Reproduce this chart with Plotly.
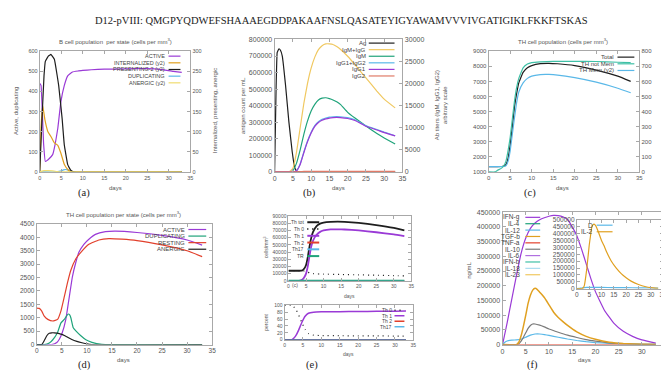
import plotly.graph_objects as go

W, H = 669, 370
SANS = "Liberation Sans"
SERIF = "Liberation Serif"

def X(p):
    return p / W

def Y(p):
    return 1 - p / H

# ---------------- colours ----------------
PURPLE = "#9a3ad6"
ORANGE = "#e0a020"
BLACK = "#1e1e1e"
LBLUE = "#5ab8e8"
PYELLOW = "#f0dc70"
GREEN = "#1fa37a"
SALMON = "#e07a68"
RED = "#e2402c"
TEAL = "#3fc0a6"
GRAY = "#7a7a7a"

TITLE = "D12-pVIII: QMGPYQDWEFSHAAAEGDDPAKAAFNSLQASATEYIGYAWAMVVVIVGATIGIKLFKKFTSKAS"

# ---------------- (a) B cell population per state ----------------
a_active_days = [0, 0.3, 0.6, 0.9, 1.3, 2, 3, 3.6, 4.2, 4.9, 5.7, 6.5, 7.6, 9, 10, 12, 15, 20, 25, 28, 31, 33]
a_active = [440, 430, 300, 140, 52, 62, 86, 140, 217, 347, 429, 478, 497, 502, 505, 508, 511, 512, 514, 510, 500, 495]
a_int_days = [0, 0.3, 0.7, 1.2, 1.9, 2.6, 3.4, 4.2, 4.9, 5.7, 6.5, 7.3, 8, 33]
a_internalized = [0, 110, 165, 130, 100, 88, 72, 66, 47, 19, 6, 0, 0, 0]
a_pres_days = [0, 0.5, 1, 1.3, 2, 2.6, 3.4, 4.4, 5.2, 5.7, 6.5, 7.2, 8, 33]
a_presenting = [0, 125, 240, 275, 288, 292, 280, 215, 133, 68, 18, 4, 0, 0]
a_dup_days = [0, 4, 5, 5.5, 6, 6.5, 7, 7.5, 33]
a_duplicating = [0, 0, 5, 10, 12, 10, 4, 0, 0]
a_anerg_days = [0, 0.5, 1, 2, 3, 4, 5, 33]
a_anergic = [0, 2, 3, 3, 2.5, 1, 0, 0]

# ---------------- (b) antigen and antibodies ----------------
b_ag_days = [0, 0.4, 0.7, 1.2, 1.6, 2.1, 3.0, 3.9, 4.8, 5.5, 6.1, 7, 33]
b_ag = [0, 500000, 720000, 744000, 735000, 700000, 522000, 304000, 125000, 26000, 0, 0, 0]
b_ab_days = [0, 4, 5, 6, 7, 8, 9, 10, 11, 12, 13, 14, 15, 16, 17, 18, 20, 22, 25, 28, 30, 33]
b_igm_igg = [0, 0, 800, 4500, 10000, 15500, 20000, 23500, 26000, 27700, 28600, 29000, 29000, 28850, 28400, 27800, 26200, 24300, 21300, 18300, 16500, 14500]
b_igm = [0, 0, 300, 2000, 5000, 8500, 11500, 13800, 15300, 16300, 16700, 16800, 16600, 16300, 15900, 15300, 13500, 12200, 10400, 8700, 7700, 6300]
b_igg1_igg2 = [0, 0, 0, 300, 1800, 4500, 7000, 9000, 10500, 11400, 11900, 12200, 12400, 12500, 12550, 12500, 12300, 11800, 10450, 9600, 9000, 8200]
b_igg1 = [0, 0, 0, 280, 1700, 4350, 6800, 8800, 10300, 11200, 11700, 12000, 12200, 12300, 12350, 12300, 12100, 11650, 10350, 9500, 8900, 8150]
b_igg2 = [0, 0, 0, 20, 60, 100, 120, 130, 140, 140, 140, 140, 140, 140, 140, 140, 135, 130, 120, 110, 105, 100]

# ---------------- (c) TH cell population ----------------
c_days = [0, 1, 2, 3, 3.5, 4, 4.5, 5, 5.5, 6, 6.5, 7, 8, 9, 10, 12, 14, 16, 20, 25, 30, 33]
c_total = [1350, 1350, 1350, 1360, 1380, 1480, 1900, 2800, 4000, 5300, 6200, 6900, 7600, 7900, 8050, 8180, 8200, 8170, 8050, 7750, 7350, 7000]
c_not_mem = [1350, 1350, 1350, 1350, 1360, 1400, 1700, 2400, 3500, 4600, 5600, 6300, 6900, 7200, 7350, 7450, 7460, 7420, 7250, 6950, 6550, 6250]
c_mem_days = [0, 1.5, 2, 3, 3.5, 4, 4.5, 5, 5.5, 6, 6.5, 7, 8, 9, 10, 12, 15, 20, 25, 30, 33]
c_mem = [0, 0, 10, 25, 40, 70, 140, 230, 350, 470, 560, 620, 690, 715, 725, 730, 733, 733, 732, 727, 725]

# ---------------- (d) TH cell population per state ----------------
d_act_days = [0, 3, 4, 4.5, 5.1, 5.8, 6.5, 7.1, 7.8, 8.4, 9.4, 10.4, 11.7, 13.7, 15.7, 20, 25, 30, 33]
d_active = [0, 0, 80, 200, 450, 940, 1790, 2520, 3070, 3440, 3740, 3930, 4110, 4210, 4230, 4180, 4070, 3900, 3710]
d_dup_days = [0, 1.5, 2.5, 3.2, 4.15, 4.8, 5.5, 6.0, 6.3, 6.6, 6.8, 7.25, 7.8, 8.8, 9.8, 11, 13, 15, 33]
d_duplicating = [0, 0, 60, 180, 450, 800, 940, 1080, 1140, 1100, 1000, 640, 510, 330, 180, 85, 12, 0, 0]
d_rest_days = [0, 0.5, 1, 1.5, 2.2, 3.2, 4.15, 4.8, 5.5, 6.1, 6.8, 7.8, 8.8, 10.4, 12.4, 14.4, 17, 20, 25, 30, 33]
d_resting = [1360, 1350, 1250, 1060, 940, 880, 940, 1240, 1790, 2280, 2770, 3200, 3440, 3740, 3900, 3950, 3930, 3880, 3720, 3500, 3280]
d_anerg_days = [0, 1, 1.5, 2, 2.5, 3, 3.5, 4, 4.5, 5, 5.5, 6, 7, 8, 9, 10, 11, 33]
d_anergic = [0, 0, 150, 330, 420, 440, 440, 430, 410, 380, 340, 290, 190, 120, 70, 25, 0, 0]

# ---------------- (e) Th subsets ----------------
e_days = [0, 1, 2, 3, 4, 4.5, 5, 5.5, 6, 6.5, 7, 8, 9, 10, 12, 14, 16, 20, 25, 30, 33]
e_th_tot = [14000, 14000, 14000, 14000, 14500, 17000, 22000, 33000, 48000, 60000, 68000, 76000, 79500, 81000, 82000, 82300, 82000, 80500, 77500, 73500, 70000]
e_th1 = [0, 0, 0, 0, 2000, 5000, 10000, 20000, 35000, 48000, 56000, 64000, 68000, 70000, 71500, 71500, 71300, 70000, 67500, 64500, 62000]
e_th2 = [0] * 21
e_th17 = [0] * 21
e_tr = [300] * 21
e_th0_days = [0, 4, 4.5, 5, 5.5, 6, 6.5, 7, 8, 9, 10, 15, 20, 25, 30, 33]
e_th0 = [14000, 14000, 13500, 13000, 12000, 11000, 10500, 10000, 9600, 9400, 9300, 8800, 8300, 7800, 7200, 6800]
e_pct_days = [0, 2, 2.5, 3.2, 3.8, 4.7, 5.6, 6.5, 7.9, 10, 15, 20, 25, 30, 33]
e_th1_pct = [0, 0, 4, 14, 27, 50, 68, 77, 80, 81, 81.5, 82, 82.5, 83, 83.5]
e_th0_pct = [100, 100, 96, 86, 73, 50, 30, 18, 13, 12, 11.5, 11, 11, 10.5, 10.5]
e_th2_pct = [0] * 15
e_th17_pct = [0] * 15

# ---------------- (f) cytokines ----------------
f_ifng_days = [0, 1, 2, 3, 4, 5, 6, 7, 8, 9, 10, 11, 12, 13, 14, 15, 16, 17, 18, 19, 20, 22, 24, 26, 28, 30, 33]
f_ifng = [0, 75000, 155000, 235000, 310000, 362000, 395000, 413000, 424000, 431000, 436000, 439000, 438000, 434000, 425000, 400000, 370000, 325000, 275000, 225000, 180000, 115000, 72000, 45000, 28000, 16000, 5000]
f_tgfb_days = [0, 3, 3.5, 4, 4.5, 5, 5.5, 6, 6.5, 7, 7.5, 8, 9, 10, 11, 12, 13, 14, 16, 18, 20, 23, 26, 30, 33]
f_tgfb = [0, 0, 8000, 30000, 63000, 100000, 140000, 168000, 185000, 191000, 187000, 178000, 160000, 135000, 110000, 92000, 78000, 65000, 43000, 28000, 18000, 8000, 3500, 1200, 500]
f_il10_days = [0, 3, 3.5, 4, 4.5, 5, 5.5, 6, 6.5, 7, 8, 9, 10, 12, 14, 16, 18, 20, 23, 26, 30, 33]
f_il10 = [0, 0, 3000, 12000, 25000, 40000, 55000, 65000, 70000, 70000, 66000, 60000, 53000, 42000, 32000, 24000, 17000, 12000, 6000, 3000, 1000, 500]
f_il12_days = [0, 0.5, 1, 2, 3, 4, 5, 6, 7, 7.5, 8, 9, 10, 12, 14, 16, 18, 20, 23, 26, 30, 33]
f_il12 = [0, 8000, 12000, 15000, 16000, 18000, 25000, 32000, 36000, 36500, 36000, 34000, 31000, 25000, 19000, 14000, 10000, 7000, 4000, 2000, 1000, 500]
f_flat_days = [0, 33]
f_flat = [0, 0]
f_d_days = [0, 1, 2, 3, 4, 5, 6, 8, 10, 15, 20, 25, 30, 33]
f_d = [0, 2000, 5000, 7000, 9000, 10000, 10000, 9500, 9000, 8000, 7000, 6000, 5000, 4500]
f_il2_days = [0, 2, 2.5, 3, 4, 5, 5.5, 6, 6.5, 7, 7.5, 8, 9, 10, 11, 12, 14, 16, 18, 20, 22, 25, 28, 30, 33]
f_il2 = [0, 0, 5000, 20000, 140000, 314000, 380000, 443000, 465000, 470000, 462000, 445000, 400000, 350000, 314000, 270000, 200000, 150000, 110000, 80000, 55000, 30000, 14000, 8000, 3000]

# ---------------- legend labels ----------------
a_labels = ["ACTIVE", "INTERNALIZED (y2)", "PRESENTING-2 (y2)", "DUPLICATING", "ANERGIC (y2)"]
b_labels = ["Ag", "IgM+IgG", "IgM", "IgG1+IgG2", "IgG1", "IgG2"]
c_labels = ["Total", "TH not Mem", "TH Mem (y2)"]
d_labels = ["ACTIVE", "DUPLICATING", "RESTING", "ANERGIC"]
e_labels = ["Th tot", "Th 0", "Th 1", "Th 2", "Th17", "TR"]
e2_labels = ["Th 0", "Th 1", "Th 2", "Th17"]
f_labels = ["IFN-g", "IL-4", "IL-12", "TGF-b", "TNF-a", "IL-10", "IL-6", "IFN-b", "IL-18", "IL-23"]
f2_labels = ["D", "IL-2"]

fig = go.Figure()

FRAME = "#a8a8a8"


def ax_style(fs, mirror):
    return dict(showline=True, linecolor=FRAME, linewidth=1, mirror=mirror,
                ticks="inside", ticklen=3, tickcolor=FRAME, showgrid=False,
                zeroline=False, tickformat="d",
                tickfont=dict(size=fs, color="#555", family=SANS))


def set_x(n, px0, px1, anchor, rng, dtick, fs):
    key = "xaxis" if n == 1 else f"xaxis{n}"
    fig.update_layout({key: dict(domain=[X(px0), X(px1)], anchor=anchor, range=rng,
                                 dtick=dtick, tick0=0, **ax_style(fs, "ticks"))})


def set_y(n, py_top, py_bot, anchor, rng, dtick, fs, mirror="ticks", overlay=None, tick0=0):
    key = "yaxis" if n == 1 else f"yaxis{n}"
    d = dict(anchor=anchor, range=rng, dtick=dtick, tick0=tick0, **ax_style(fs, mirror))
    if overlay:
        d.update(overlaying=overlay, side="right")
    else:
        d.update(domain=[Y(py_bot), Y(py_top)])
    fig.update_layout({key: d})


def line(xs, ys, xa, ya, color, width=1.2, dash="solid", smooth=0.35):
    fig.add_trace(go.Scatter(x=xs, y=ys, xaxis=xa, yaxis=ya, mode="lines",
                             line=dict(color=color, width=width, dash=dash, shape="spline", smoothing=smooth),
                             showlegend=False, hoverinfo="skip", cliponaxis=True))


def text(x, y, s, size, angle=0, anchor="center", family=SANS, color="#555"):
    fig.add_annotation(x=X(x), y=Y(y), xref="paper", yref="paper", text=s, showarrow=False,
                       xanchor=anchor, yanchor="middle", textangle=angle, borderpad=0,
                       font=dict(size=size, color=color, family=family))


def legend(labels, colors, xr, xl0, xl1, y0, dy, fs, lw=1.2, dashes=None):
    for i, lab in enumerate(labels):
        yy = y0 + i * dy
        text(xr, yy, lab, fs, anchor="right", color="#444")
        fig.add_shape(type="line", xref="paper", yref="paper", x0=X(xl0), x1=X(xl1),
                      y0=Y(yy), y1=Y(yy),
                      line=dict(color=colors[i], width=lw, dash=(dashes[i] if dashes else "solid")))


# ---------- axes ----------
# (a)
set_x(1, 30, 182, "y", [0, 35], 5, 5.5)
set_y(1, 40, 163, "x", [0, 600], 100, 5.5, mirror=True)
set_y(2, 40, 163, "x", [0, 300], 50, 5.5, mirror=False, overlay="y")
# (b)
set_x(2, 267, 396, "y3", [0, 35], 5, 7)
set_y(3, 28, 163, "x2", [0, 800000], 100000, 7, mirror=True)
set_y(4, 28, 163, "x2", [0, 30000], 5000, 7, mirror=False, overlay="y3")
# (c)
set_x(3, 483, 635, "y5", [0, 35], 5, 6)
set_y(5, 40, 163, "x3", [1000, 9000], 1000, 6, mirror=True, tick0=1000)
set_y(6, 40, 163, "x3", [0, 800], 100, 6, mirror=False, overlay="y5")
# (d)
set_x(4, 27, 204, "y7", [0, 35], 5, 6.5)
set_y(7, 216, 339, "x4", [0, 4500], 500, 6.5)
# (e) top
set_x(5, 281, 405, "y8", [0, 35], 5, 5)
set_y(8, 208, 274, "x5", [0, 90000], 10000, 5)
# (e) bottom
set_x(6, 277, 407, "y9", [0, 35], 5, 5)
set_y(9, 299, 334, "x6", [0, 100], 20, 5)
# (f) main
set_x(7, 497, 661, "y10", [0, 35], 5, 7)
set_y(10, 204, 339, "x7", [0, 450000], 50000, 7)
# (f) inset
set_x(8, 572, 659, "y11", [0, 35], 5, 6.5)
set_y(11, 212, 282, "x8", [0, 500000], 50000, 6.5)

# ---------- traces ----------
# (a)
line(a_active_days, a_active, "x", "y", PURPLE, smooth=0.25)
line(a_int_days, a_internalized, "x", "y2", ORANGE, smooth=0.25)
line(a_pres_days, a_presenting, "x", "y2", BLACK, smooth=0.25)
line(a_dup_days, a_duplicating, "x", "y", LBLUE)
line(a_anerg_days, a_anergic, "x", "y2", PYELLOW)
# (b)
line(b_ag_days, b_ag, "x2", "y3", BLACK, smooth=0.25)
line(b_ab_days, b_igm_igg, "x2", "y4", "#f0c860")
line(b_ab_days, b_igm, "x2", "y4", GREEN)
line(b_ab_days, b_igg1_igg2, "x2", "y4", LBLUE)
line(b_ab_days, b_igg1, "x2", "y4", PURPLE)
line(b_ab_days, b_igg2, "x2", "y4", SALMON)
# (c)
line(c_days, c_total, "x3", "y5", BLACK)
line(c_days, c_not_mem, "x3", "y5", LBLUE)
line(c_mem_days, c_mem, "x3", "y6", TEAL)
# (d)
line(d_act_days, d_active, "x4", "y7", PURPLE)
line(d_dup_days, d_duplicating, "x4", "y7", GREEN, smooth=0.25)
line(d_rest_days, d_resting, "x4", "y7", RED)
line(d_anerg_days, d_anergic, "x4", "y7", BLACK)
# (e) top
line(e_days, e_th_tot, "x5", "y8", BLACK, 1.8)
line(e_th0_days, e_th0, "x5", "y8", BLACK, 1.2, "1px,4px")
line(e_days, e_th1, "x5", "y8", PURPLE, 1.8)
line(e_days, e_th2, "x5", "y8", RED, 1.8)
line(e_days, e_th17, "x5", "y8", LBLUE, 1.8)
line(e_days, e_tr, "x5", "y8", GREEN, 1.8)
# (e) bottom
line(e_pct_days, e_th0_pct, "x6", "y9", BLACK, 1.2, "1px,4px")
line(e_pct_days, e_th1_pct, "x6", "y9", PURPLE, 1.5)
line(e_pct_days, e_th2_pct, "x6", "y9", RED, 1.5)
line(e_pct_days, e_th17_pct, "x6", "y9", "#3a78b8", 1.5)
# (f) main
line(f_flat_days, f_flat, "x7", "y10", RED)
line(f_ifng_days, f_ifng, "x7", "y10", PURPLE)
line(f_il12_days, f_il12, "x7", "y10", LBLUE)
line(f_il10_days, f_il10, "x7", "y10", GRAY)
line(f_tgfb_days, f_tgfb, "x7", "y10", ORANGE, 1.5)
# (f) inset
line(f_d_days, f_d, "x8", "y11", LBLUE)
line(f_il2_days, f_il2, "x8", "y11", ORANGE)

# ---------- legends ----------
legend(a_labels, [PURPLE, ORANGE, BLACK, LBLUE, PYELLOW], 157, 160, 172, 45, 6.8, 5.5)
legend(b_labels, [BLACK, "#f0c860", GREEN, LBLUE, PURPLE, SALMON], 360, 362, 388, 31.7, 6.7, 6)
legend(c_labels, [BLACK, TEAL, LBLUE], 610, 613, 630, 46, 6.8, 6)
legend(d_labels, [PURPLE, GREEN, RED, BLACK], 178, 180, 198, 221.7, 6.7, 6)
legend(e_labels, [BLACK, BLACK, PURPLE, RED, LBLUE, GREEN], 298, 300, 312, 214.3, 6.9, 5, lw=2,
       dashes=["solid", "1px,4px", "solid", "solid", "solid", "solid"])
legend(e2_labels, [BLACK, PURPLE, RED, LBLUE], 386, 388, 398, 304, 5.6, 5, lw=1.5,
       dashes=["1px,4px", "solid", "solid", "solid"])
legend(f_labels, [PURPLE, GREEN, LBLUE, ORANGE, RED, GRAY, "#b070e0", TEAL, "#a8dcf0", "#f0c860"],
       516, 520, 535, 209.3, 6.5, 6.5)
legend(f2_labels, [LBLUE, ORANGE], 589, 592, 608, 217.3, 6.7, 6.5)

# ---------- titles and labels ----------
text(334, 9, TITLE, 10.5, family=SERIF, color="#222")
text(106, 30, "B cell population  per state (cells per mm<sup>3</sup>)", 6)
text(558, 30, "TH cell population (cells per mm<sup>3</sup>)", 6)
text(115, 206, "TH cell population per state (cells per mm<sup>3</sup>)", 6)

text(106, 179, "days", 6)
text(331, 179, "days", 6)
text(558, 179, "days", 6)
text(115, 355, "days", 6)
text(343, 289, "days", 5)
text(342, 349, "days", 5)
text(580, 355, "days", 6)

text(6, 101, "Active, duplicating", 6, angle=-90)
text(207, 101, "Internalized, presenting, anergic", 6, angle=-90)
text(235, 95, "antigen count per mL", 6, angle=-90)
text(435, 95, "Ab titers (IgM, IgG1, IgG2)<br>arbitrary scale", 6, angle=-90)
text(660, 101, "memory cells", 6, angle=-90)
text(259, 240, "cells/mm<sup>3</sup>", 5, angle=-90)
text(258, 316, "percent", 5, angle=-90)
text(463, 263, "ng/mL", 6, angle=-90)
text(288, 278, "(c)", 5)

for lab, xx, yy in [("(a)", 75, 184), ("(b)", 302, 184), ("(c)", 525, 184),
                    ("(d)", 75, 360), ("(e)", 305, 360), ("(f)", 527, 360)]:
    text(xx, yy, lab, 10.5, family=SERIF, color="#222")

fig.update_layout(width=W, height=H, margin=dict(l=0, r=0, t=0, b=0),
                  paper_bgcolor="white", plot_bgcolor="rgba(0,0,0,0)", showlegend=False)

fig.write_html("out.html")
